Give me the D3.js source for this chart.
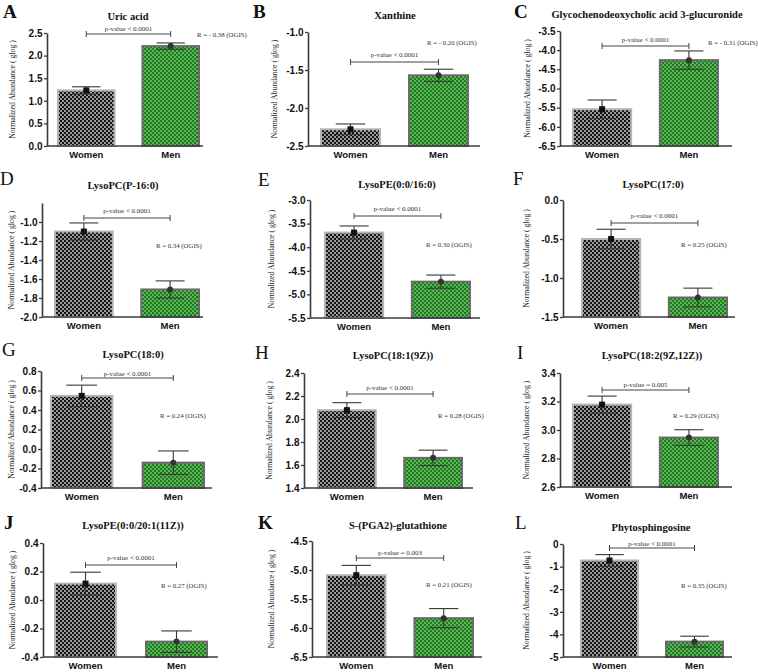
<!DOCTYPE html>
<html><head><meta charset="utf-8">
<script src="https://cdn.jsdelivr.net/npm/d3@7"></script>
<style>body{margin:0;background:#fff}svg{display:block}</style>
</head><body>
<svg id="c" width="758" height="672"></svg>
<script>
// ---------- DATA ----------
const letters = ["A","B","C","D","E","F","G","H","I","J","K","L"];
const titles = ["Uric acid","Xanthine","Glycochenodeoxycholic acid 3-glucuronide","LysoPC(P-16:0)","LysoPE(0:0/16:0)","LysoPC(17:0)","LysoPC(18:0)","LysoPC(18:1(9Z))","LysoPC(18:2(9Z,12Z))","LysoPE(0:0/20:1(11Z))","S-(PGA2)-glutathione","Phytosphingosine"];
const groups = ["Women","Men"];
const womenMean = [1.23,-2.28,-5.54,-1.10,-3.69,-0.50,0.545,2.077,3.178,0.115,-5.09,-0.73];
const womenSE   = [0.08,0.07,0.24,0.09,0.14,0.125,0.11,0.065,0.06,0.08,0.17,0.26];
const menMean   = [2.21,-1.57,-4.26,-1.71,-4.73,-1.25,-0.14,1.662,2.947,-0.292,-5.83,-4.32];
const menSE     = [0.07,0.08,0.24,0.09,0.14,0.12,0.12,0.067,0.055,0.075,0.165,0.24];
const yDomains = [[0,2.5],[-2.5,-1.0],[-6.5,-3.5],[-2.0,-0.8],[-5.5,-3.0],[-1.5,0],[-0.4,0.8],[1.4,2.4],[2.6,3.4],[-0.4,0.4],[-6.5,-4.5],[-5,0]];
const yTicks = [
  [0,0.5,1,1.5,2,2.5],[-2.5,-2,-1.5,-1],[-6.5,-6,-5.5,-5,-4.5,-4,-3.5],
  [-2,-1.8,-1.6,-1.4,-1.2,-1.0],[-5.5,-5,-4.5,-4,-3.5,-3],[-1.5,-1,-0.5,0],
  [-0.4,-0.2,0,0.2,0.4,0.6,0.8],[1.4,1.6,1.8,2.0,2.2,2.4],[2.6,2.8,3.0,3.2,3.4],
  [-0.4,-0.2,0,0.2,0.4],[-6.5,-6,-5.5,-5,-4.5],[-5,-4,-3,-2,-1,0]];
const tickDecimals = [1,1,1,1,1,1,1,1,1,1,1,0];
const pLabels = ["p-value < 0.0001","p-value < 0.0001","p-value < 0.0001","p-value < 0.0001","p-value < 0.0001","p-value < 0.0001","p-value < 0.0001","p-value < 0.0001","p-value = 0.005","p-value < 0.0001","p-value = 0.003","p-value < 0.0001"];
const rLabels = ["R = - 0.38 (OGIS)","R = - 0.20 (OGIS)","R = - 0.31 (OGIS)","R = 0.34 (OGIS)","R = 0.30 (OGIS)","R = 0.25 (OGIS)","R = 0.24 (OGIS)","R = 0.28 (OGIS)","R = 0.29 (OGIS)","R = 0.27 (OGIS)","R = 0.21 (OGIS)","R = 0.35 (OGIS)"];
const yTitle = "Normalized Abundance ( glog )";

// ---------- LAYOUT ----------
const layout = [
 {ox:47, top:33, bot:146,right:203,b0:58, b1:199,tx:128,ty:20, lx:3,  ly:18, lb:1,yl:13, by:34, pb:30.5,rx:197,ry:37},
 {ox:308,top:32, bot:146,right:480,b0:321,b1:468,tx:395,ty:19, lx:253,ly:18, lb:1,yl:275,by:62, pb:57,  rx:427,ry:45},
 {ox:560,top:31, bot:146,right:732,b0:573,b1:718,tx:647,ty:18, lx:514,ly:18, lb:1,yl:528,by:46, pb:41.5,rx:708,ry:45},
 {ox:42, top:203,bot:317,right:203,b0:55, b1:199,tx:123,ty:189,lx:0,  ly:185,lb:0,yl:12, by:218,pb:213, rx:156,ry:248},
 {ox:310,top:200,bot:318,right:480,b0:325,b1:470,tx:397,ty:188,lx:258,ly:186,lb:0,yl:272,by:216,pb:211, rx:426,ry:247},
 {ox:563,top:200,bot:317,right:735,b0:582,b1:727,tx:653,ty:188,lx:513,ly:185,lb:0,yl:527,by:223,pb:218, rx:681,ry:247},
 {ox:41, top:371,bot:488,right:212,b0:51, b1:204,tx:133,ty:358,lx:2,  ly:356,lb:0,yl:12, by:378,pb:376, rx:160,ry:418},
 {ox:304,top:373,bot:488,right:473,b0:318,b1:462,tx:393,ty:359,lx:255,ly:359,lb:0,yl:270,by:394,pb:390, rx:438,ry:418},
 {ox:560,top:373,bot:487,right:732,b0:573,b1:718,tx:652,ty:359,lx:517,ly:359,lb:0,yl:527,by:390,pb:386.5,rx:673,ry:418},
 {ox:43, top:543,bot:657,right:218,b0:55, b1:207,tx:133,ty:529,lx:4,  ly:529,lb:1,yl:13, by:565,pb:560, rx:161,ry:588},
 {ox:312,top:541,bot:657,right:482,b0:327,b1:473,tx:398,ty:529,lx:258,ly:529,lb:1,yl:272,by:558,pb:555, rx:426,ry:587},
 {ox:563,top:544,bot:657,right:732,b0:581,b1:723,tx:651,ty:531,lx:515,ly:529,lb:0,yl:527,by:548,pb:546, rx:681,ry:588}
];

const svg = d3.select("#c");
svg.append("rect").attr("width",758).attr("height",672).attr("fill","#fff");
const defs = svg.append("defs");
const patCols = [["#9a9a9a","#141414"],["#5fb556","#1d7a22"]];
patCols.forEach((c,j)=>{
  const p = defs.append("pattern").attr("id","pat"+j).attr("patternUnits","userSpaceOnUse").attr("width",4).attr("height",4);
  p.append("rect").attr("width",4).attr("height",4).attr("fill",c[0]);
  p.append("rect").attr("width",2).attr("height",2).attr("fill",c[1]);
  p.append("rect").attr("x",2).attr("y",2).attr("width",2).attr("height",2).attr("fill",c[1]);
});

const serif = "'Liberation Serif','Times New Roman',serif";
const sans = "'Liberation Sans',Arial,sans-serif";

layout.forEach((L,i)=>{
  const g = svg.append("g");
  const y = d3.scaleLinear().domain(yDomains[i]).range([L.bot,L.top]);
  const x = d3.scaleBand().domain(groups).range([L.b0,L.b1]).paddingInner(0.33).paddingOuter(0);
  const means = [womenMean[i],menMean[i]];
  const ses = [womenSE[i],menSE[i]];
  const base = yDomains[i][0];
  const bw = x.bandwidth();
  const fmt = v => d3.format("."+tickDecimals[i]+"f")(v).replace("\u2212","-");

  // bars
  g.selectAll("rect.bar").data(groups).join("rect").attr("class","bar")
    .attr("x",d=>x(d)).attr("width",bw)
    .attr("y",(d,j)=>y(means[j])).attr("height",(d,j)=>y(base)-y(means[j]))
    .attr("fill",(d,j)=>`url(#pat${j})`)
    .attr("stroke",(d,j)=>j?"#6a6a6a":"#b4b4b4").attr("stroke-width",2);

  // error bars
  const cap = bw*0.5;
  groups.forEach((d,j)=>{
    const cx = x(d)+bw/2;
    const e = g.append("g").attr("stroke","#383838").attr("stroke-width",1.1).attr("fill","none");
    e.append("line").attr("x1",cx).attr("x2",cx).attr("y1",y(means[j]-ses[j])).attr("y2",y(means[j]+ses[j]));
    e.append("line").attr("x1",cx-cap/2).attr("x2",cx+cap/2).attr("y1",y(means[j]+ses[j])).attr("y2",y(means[j]+ses[j]));
    e.append("line").attr("x1",cx-cap/2).attr("x2",cx+cap/2).attr("y1",y(means[j]-ses[j])).attr("y2",y(means[j]-ses[j]));
    if(j===0){
      g.append("rect").attr("x",cx-3).attr("y",y(means[j])-3).attr("width",6).attr("height",6).attr("fill","#111");
    } else {
      g.append("circle").attr("cx",cx).attr("cy",y(means[j])).attr("r",3).attr("fill","#333");
    }
  });

  // y axis
  const ya = g.append("g").attr("transform",`translate(${L.ox},0)`)
    .call(d3.axisLeft(y).tickValues(yTicks[i]).tickFormat(fmt).tickSize(3).tickSizeOuter(0).tickPadding(1.5));
  ya.select(".domain").attr("stroke","#3a3a3a").attr("stroke-width",1.6);
  ya.selectAll(".tick line").attr("stroke","#3a3a3a").attr("stroke-width",1.3);
  ya.selectAll(".tick text").attr("font-family",sans).attr("font-weight","bold").attr("font-size",10).attr("fill","#111");

  // x axis
  g.append("line").attr("x1",L.ox).attr("x2",L.right).attr("y1",L.bot).attr("y2",L.bot)
    .attr("stroke","#3a3a3a").attr("stroke-width",1.6);
  const xa = g.append("g").attr("transform",`translate(0,${L.bot})`)
    .call(d3.axisBottom(x).tickSize(0).tickPadding(5));
  xa.select(".domain").remove();
  xa.selectAll(".tick text").attr("font-family",sans).attr("font-weight","bold").attr("font-size",9.5).attr("fill","#111");

  // y title
  g.append("text").attr("transform",`translate(${L.yl},${(L.top+L.bot)/2}) rotate(-90)`)
    .attr("text-anchor","middle").attr("dominant-baseline","middle")
    .attr("font-family",serif).attr("font-size",7.8).attr("fill","#222").text(yTitle);

  // title and letter
  g.append("text").attr("x",L.tx).attr("y",L.ty).attr("text-anchor","middle")
    .attr("font-family",serif).attr("font-weight","bold").attr("font-size",10.5).attr("fill","#111").text(titles[i]);
  g.append("text").attr("x",L.lx).attr("y",L.ly)
    .attr("font-family",serif).attr("font-weight",L.lb?"bold":"normal").attr("font-size",19).attr("fill","#111").text(letters[i]);

  // p-value bracket
  const c0 = x("Women")+bw/2, c1 = x("Men")+bw/2;
  const br = g.append("g").attr("stroke","#444").attr("stroke-width",1).attr("fill","none");
  br.append("line").attr("x1",c0).attr("x2",c1).attr("y1",L.by).attr("y2",L.by);
  br.append("line").attr("x1",c0).attr("x2",c0).attr("y1",L.by-3).attr("y2",L.by+3);
  br.append("line").attr("x1",c1).attr("x2",c1).attr("y1",L.by-3).attr("y2",L.by+3);
  g.append("text").attr("x",(c0+c1)/2).attr("y",L.pb).attr("text-anchor","middle")
    .attr("font-family",serif).attr("font-size",7).attr("fill","#333").text(pLabels[i]);

  // R text
  g.append("text").attr("x",L.rx).attr("y",L.ry)
    .attr("font-family",serif).attr("font-size",6.8).attr("fill","#333").text(rLabels[i]);
});
</script>
</body></html>
